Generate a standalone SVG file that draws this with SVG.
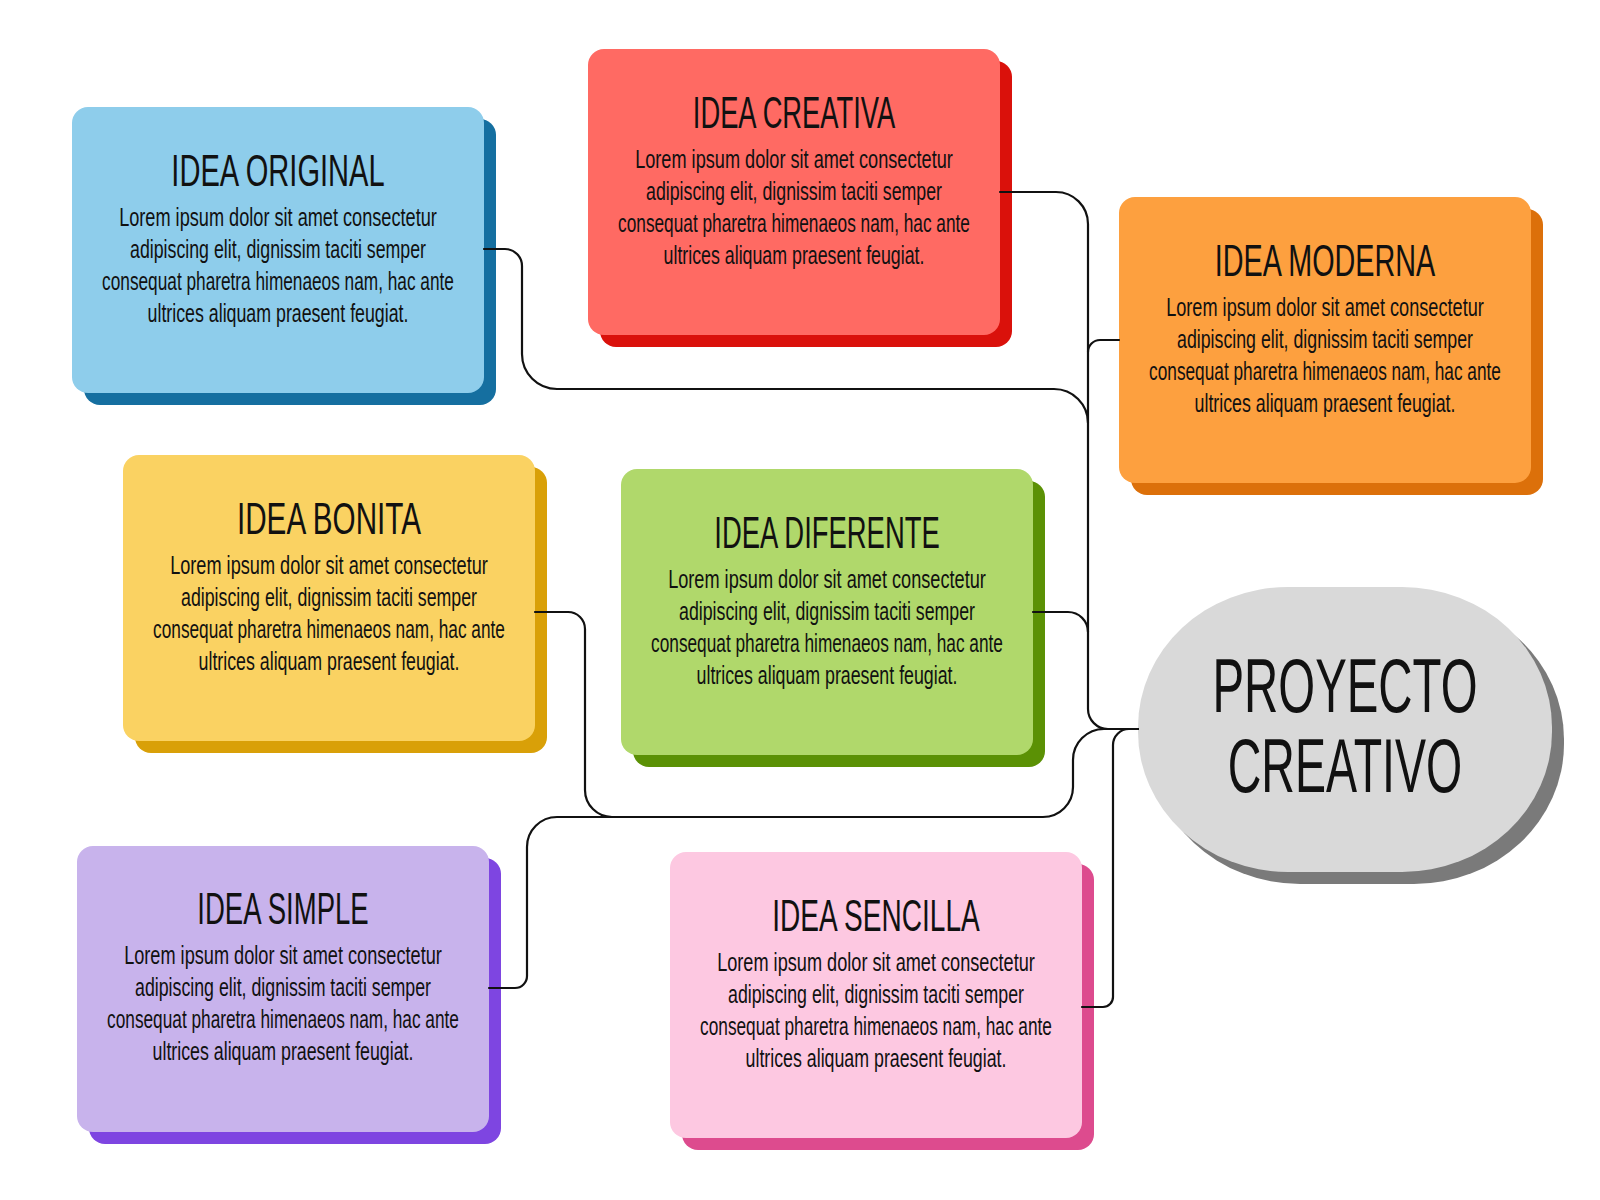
<svg xmlns="http://www.w3.org/2000/svg" width="1600" height="1200" viewBox="0 0 1600 1200">
<style>
  .t{font-family:"Liberation Sans","DejaVu Sans",sans-serif;font-size:45px;fill:#111;text-anchor:middle}
  .b{font-family:"Liberation Sans","DejaVu Sans",sans-serif;font-size:26px;fill:#111;text-anchor:middle}
  .c{font-family:"Liberation Sans","DejaVu Sans",sans-serif;font-size:76px;fill:#111;text-anchor:middle}
  .ln{fill:none;stroke:#111;stroke-width:2.2;stroke-linecap:round}
</style>
<rect width="1600" height="1200" fill="#ffffff"/>

<g id="idea-original">
  <rect x="84" y="119" width="412" height="286" rx="16" fill="#156FA0"/>
  <rect x="72" y="107" width="412" height="286" rx="16" fill="#8ECDEB"/>
  <text class="t" transform="translate(278 186) scale(0.6464 1)">IDEA ORIGINAL</text>
  <text class="b" transform="translate(278 226) scale(0.6986 1)">Lorem ipsum dolor sit amet consectetur</text>
  <text class="b" transform="translate(278 258) scale(0.6830 1)">adipiscing elit, dignissim taciti semper</text>
  <text class="b" transform="translate(278 290) scale(0.6637 1)">consequat pharetra himenaeos nam, hac ante</text>
  <text class="b" transform="translate(278 322) scale(0.6841 1)">ultrices aliquam praesent feugiat.</text>
</g>

<g id="idea-creativa">
  <rect x="600" y="61" width="412" height="286" rx="16" fill="#DA110B"/>
  <rect x="588" y="49" width="412" height="286" rx="16" fill="#FF6A63"/>
  <text class="t" transform="translate(794 128) scale(0.6071 1)">IDEA CREATIVA</text>
  <text class="b" transform="translate(794 168) scale(0.6986 1)">Lorem ipsum dolor sit amet consectetur</text>
  <text class="b" transform="translate(794 200) scale(0.6830 1)">adipiscing elit, dignissim taciti semper</text>
  <text class="b" transform="translate(794 232) scale(0.6637 1)">consequat pharetra himenaeos nam, hac ante</text>
  <text class="b" transform="translate(794 264) scale(0.6841 1)">ultrices aliquam praesent feugiat.</text>
</g>

<g id="idea-moderna">
  <rect x="1131" y="209" width="412" height="286" rx="16" fill="#DC700A"/>
  <rect x="1119" y="197" width="412" height="286" rx="16" fill="#FDA03F"/>
  <text class="t" transform="translate(1325 276) scale(0.6388 1)">IDEA MODERNA</text>
  <text class="b" transform="translate(1325 316) scale(0.6986 1)">Lorem ipsum dolor sit amet consectetur</text>
  <text class="b" transform="translate(1325 348) scale(0.6830 1)">adipiscing elit, dignissim taciti semper</text>
  <text class="b" transform="translate(1325 380) scale(0.6637 1)">consequat pharetra himenaeos nam, hac ante</text>
  <text class="b" transform="translate(1325 412) scale(0.6841 1)">ultrices aliquam praesent feugiat.</text>
</g>

<g id="idea-bonita">
  <rect x="135" y="467" width="412" height="286" rx="16" fill="#D9A008"/>
  <rect x="123" y="455" width="412" height="286" rx="16" fill="#FAD262"/>
  <text class="t" transform="translate(329 534) scale(0.6595 1)">IDEA BONITA</text>
  <text class="b" transform="translate(329 574) scale(0.6986 1)">Lorem ipsum dolor sit amet consectetur</text>
  <text class="b" transform="translate(329 606) scale(0.6830 1)">adipiscing elit, dignissim taciti semper</text>
  <text class="b" transform="translate(329 638) scale(0.6637 1)">consequat pharetra himenaeos nam, hac ante</text>
  <text class="b" transform="translate(329 670) scale(0.6841 1)">ultrices aliquam praesent feugiat.</text>
</g>

<g id="idea-diferente">
  <rect x="633" y="481" width="412" height="286" rx="16" fill="#5B9105"/>
  <rect x="621" y="469" width="412" height="286" rx="16" fill="#B0D86B"/>
  <text class="t" transform="translate(827 548) scale(0.6093 1)">IDEA DIFERENTE</text>
  <text class="b" transform="translate(827 588) scale(0.6986 1)">Lorem ipsum dolor sit amet consectetur</text>
  <text class="b" transform="translate(827 620) scale(0.6830 1)">adipiscing elit, dignissim taciti semper</text>
  <text class="b" transform="translate(827 652) scale(0.6637 1)">consequat pharetra himenaeos nam, hac ante</text>
  <text class="b" transform="translate(827 684) scale(0.6841 1)">ultrices aliquam praesent feugiat.</text>
</g>

<g id="idea-simple">
  <rect x="89" y="858" width="412" height="286" rx="16" fill="#7E45E1"/>
  <rect x="77" y="846" width="412" height="286" rx="16" fill="#C8B3EC"/>
  <text class="t" transform="translate(283 924) scale(0.6122 1)">IDEA SIMPLE</text>
  <text class="b" transform="translate(283 964) scale(0.6986 1)">Lorem ipsum dolor sit amet consectetur</text>
  <text class="b" transform="translate(283 996) scale(0.6830 1)">adipiscing elit, dignissim taciti semper</text>
  <text class="b" transform="translate(283 1028) scale(0.6637 1)">consequat pharetra himenaeos nam, hac ante</text>
  <text class="b" transform="translate(283 1060) scale(0.6841 1)">ultrices aliquam praesent feugiat.</text>
</g>

<g id="idea-sencilla">
  <rect x="682" y="864" width="412" height="286" rx="16" fill="#DD4B8E"/>
  <rect x="670" y="852" width="412" height="286" rx="16" fill="#FDC8E1"/>
  <text class="t" transform="translate(876 931) scale(0.6237 1)">IDEA SENCILLA</text>
  <text class="b" transform="translate(876 971) scale(0.6986 1)">Lorem ipsum dolor sit amet consectetur</text>
  <text class="b" transform="translate(876 1003) scale(0.6830 1)">adipiscing elit, dignissim taciti semper</text>
  <text class="b" transform="translate(876 1035) scale(0.6637 1)">consequat pharetra himenaeos nam, hac ante</text>
  <text class="b" transform="translate(876 1067) scale(0.6841 1)">ultrices aliquam praesent feugiat.</text>
</g>

<g id="proyecto-creativo">
  <rect x="1150" y="599" width="414" height="285" rx="150" ry="140" fill="#7A7A7A"/>
  <rect x="1138" y="587" width="414" height="285" rx="150" ry="140" fill="#D9D9D9"/>
  <text class="c" transform="translate(1345 712) scale(0.6237 1)">PROYECTO</text>
  <text class="c" transform="translate(1345 792) scale(0.6126 1)">CREATIVO</text>
</g>

<g id="connectors">
  <path class="ln" d="M1000 192 H1056 A32 32 0 0 1 1088 224 V709 A20 20 0 0 0 1108 729 H1138"/>
  <path class="ln" d="M484 249 H505 A17 17 0 0 1 522 266 V354 A35 35 0 0 0 557 389 H1054 A34 34 0 0 1 1088 423"/>
  <path class="ln" d="M1119 340 H1100 A12 12 0 0 0 1088 352"/>
  <path class="ln" d="M1033 612 H1068 A20 20 0 0 1 1088 632"/>
  <path class="ln" d="M535 612 H568 A17 17 0 0 1 585 629 V790 A27 27 0 0 0 612 817 H1043 A30 30 0 0 0 1073 787 V760 A31 31 0 0 1 1104 729 H1138"/>
  <path class="ln" d="M489 988 H515 A12 12 0 0 0 527 976 V847 A30 30 0 0 1 557 817 H612"/>
  <path class="ln" d="M1082 1007 H1103 A10 10 0 0 0 1113 997 V745 A16 16 0 0 1 1129 729 H1138"/>
</g>
</svg>
